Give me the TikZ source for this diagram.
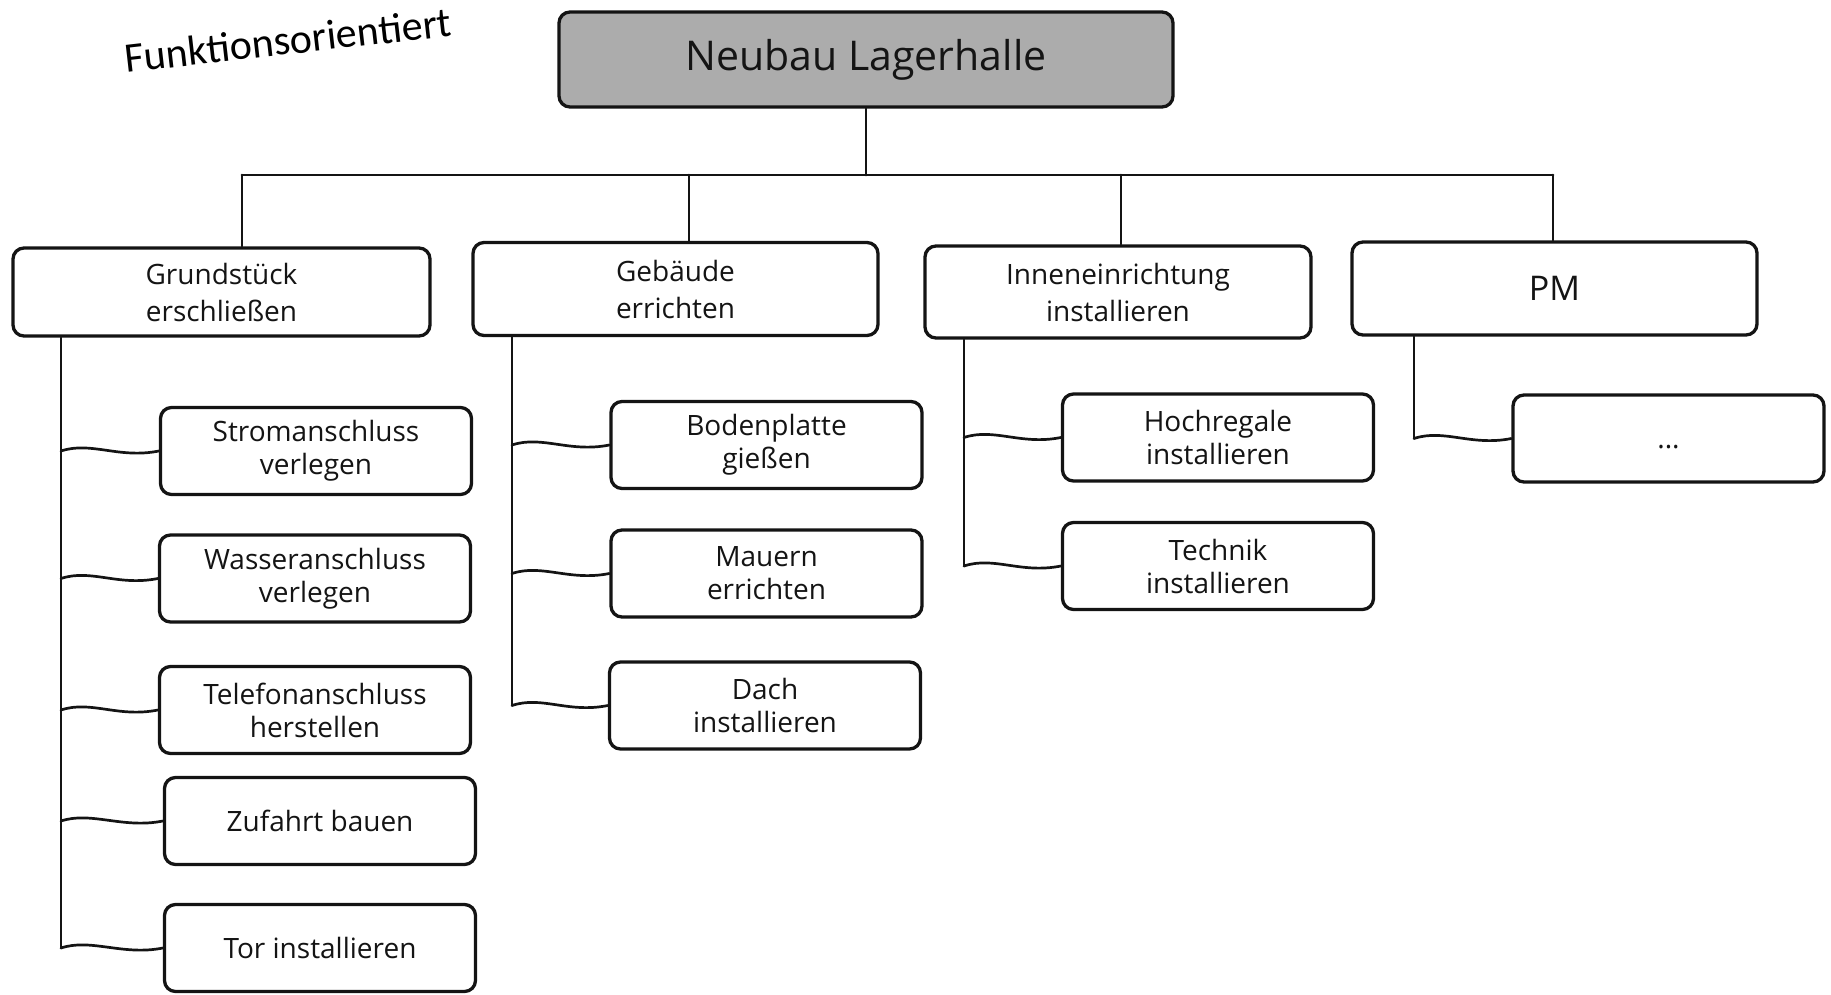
\documentclass[tikz,border=0pt]{standalone}
\usepackage{fontspec}
\setmainfont{Open Sans}
\newfontfamily\titlefont{Carlito}
\usetikzlibrary{calc}
\definecolor{rootfill}{RGB}{172,172,172}
\definecolor{ink}{RGB}{20,20,20}
\newcommand\branch[2]{\draw[conn] (#1 |- #2.west) .. controls +(30,-10) and +(-40,8) .. (#2.west);}
\begin{document}
\begin{tikzpicture}[x=1pt,y=-1pt,
  box/.style={draw=ink, line width=3.3pt, rounded corners=11pt, fill=white, align=center, inner sep=0pt, text=ink},
  lvltwo/.style={box, font=\fontsize{28}{37}\selectfont},
  lvlthree/.style={box, minimum width=311pt, minimum height=87pt, font=\fontsize{28}{33}\selectfont},
  conn/.style={draw=ink, line width=2.7pt, line cap=round, line join=round}]
\useasboundingbox (0,0) rectangle (1831,994);

% title
\node[font=\titlefont\fontsize{42}{50}\selectfont, rotate=6.5, inner sep=0pt] (title) at (288,40) {Funktionsorientiert};

% root
\node[box, fill=rootfill, minimum width=614pt, minimum height=95pt, font=\fontsize{41}{48}\selectfont] (root) at (866,59.5) {\raisebox{-3pt}{Neubau Lagerhalle}};

% level 2
\node[lvltwo, minimum width=417pt, minimum height=88pt] (g1) at (221.5,292) {Grundstück\\erschließen};
\node[lvltwo, minimum width=405pt, minimum height=93pt] (g2) at (675.5,289) {Gebäude\\errichten};
\node[lvltwo, minimum width=386pt, minimum height=92pt] (g3) at (1118,292) {Inneneinrichtung\\installieren};
\node[lvltwo, minimum width=405pt, minimum height=93pt, font=\fontsize{34}{40}\selectfont] (g4) at (1554.5,288.5) {PM};

% level 3
\node[lvlthree] (s1) at (316,451) {Stromanschluss\\verlegen};
\node[lvlthree] (s2) at (315,578.5) {Wasseranschluss\\verlegen};
\node[lvlthree] (s3) at (315,710) {Telefonanschluss\\herstellen};
\node[lvlthree] (s4) at (320,821) {Zufahrt bauen};
\node[lvlthree] (s5) at (320,948) {Tor installieren};

\node[lvlthree] (b1) at (766.5,445) {Bodenplatte\\gießen};
\node[lvlthree] (b2) at (766.5,573.5) {Mauern\\errichten};
\node[lvlthree] (b3) at (765,705.5) {Dach\\installieren};

\node[lvlthree] (i1) at (1218,437.5) {Hochregale\\installieren};
\node[lvlthree] (i2) at (1218,566) {Technik\\installieren};

\node[lvlthree] (p1) at (1668.5,438.5) {\smash{\raisebox{-10pt}{...}}};

% connectors level 1 -> 2
\coordinate (d1) at (242,175);
\coordinate (d2) at (689,175);
\coordinate (d3) at (1121,175);
\coordinate (d4) at (1553,175);
\draw[conn] (root.south) -- (root.south |- d1);
\draw[conn] (d1) -- (d4);
\draw[conn] (d1) -- (d1 |- g1.north);
\draw[conn] (d2) -- (d2 |- g2.north);
\draw[conn] (d3) -- (d3 |- g3.north);
\draw[conn] (d4) -- (d4 |- g4.north);

% trunks
\coordinate (t1) at (61,0);
\coordinate (t2) at (512,0);
\coordinate (t3) at (964,0);
\coordinate (t4) at (1414,0);
\draw[conn] (t1 |- g1.south) -- (t1 |- s5.west);
\draw[conn] (t2 |- g2.south) -- (t2 |- b3.west);
\draw[conn] (t3 |- g3.south) -- (t3 |- i2.west);
\draw[conn] (t4 |- g4.south) -- (t4 |- p1.west);

% branches
\branch{t1}{s1}
\branch{t1}{s2}
\branch{t1}{s3}
\branch{t1}{s4}
\branch{t1}{s5}
\branch{t2}{b1}
\branch{t2}{b2}
\branch{t2}{b3}
\branch{t3}{i1}
\branch{t3}{i2}
\branch{t4}{p1}
\end{tikzpicture}
\end{document}
